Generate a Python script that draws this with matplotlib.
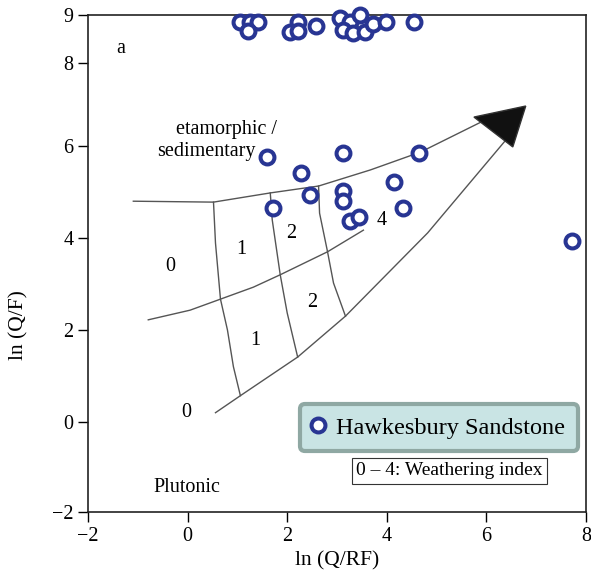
import matplotlib
matplotlib.use("Agg")
import matplotlib.pyplot as plt
from matplotlib.patches import Polygon

plt.rcParams['font.family'] = ['Liberation Serif', 'DejaVu Serif']

# ---- data (ln(Q/RF), ln(Q/F)) ----
top_x = [1.06, 1.26, 1.42, 1.22, 2.06, 2.21, 2.21, 2.57, 3.07, 3.27, 3.47, 3.13, 3.33, 3.57, 3.73, 3.98, 4.54]
top_y = [8.70, 8.70, 8.70, 8.50, 8.48, 8.70, 8.50, 8.61, 8.78, 8.70, 8.85, 8.52, 8.46, 8.48, 8.65, 8.70, 8.70]
mid_x = [1.60, 3.13, 4.64, 2.27, 4.14, 2.45, 3.13, 3.13, 1.72, 4.32, 3.27, 3.45, 7.72]
mid_y = [5.76, 5.85, 5.85, 5.41, 5.22, 4.93, 5.02, 4.80, 4.65, 4.65, 4.37, 4.46, 3.93]

upper_x = [-1.09, 0.52, 1.66, 2.63, 3.67, 4.68, 5.89]
upper_y = [4.80, 4.78, 4.98, 5.13, 5.48, 5.87, 6.52]
lower_x = [0.56, 1.06, 2.21, 3.17, 4.82, 6.39]
lower_y = [0.20, 0.57, 1.41, 2.30, 4.11, 6.13]
middle_x = [-0.79, 0.05, 0.66, 1.32, 1.86, 2.81, 3.53]
middle_y = [2.22, 2.43, 2.67, 2.93, 3.20, 3.70, 4.17]
v1_x = [0.52, 0.56, 0.66, 0.80, 0.92, 1.06]
v1_y = [4.78, 3.89, 2.67, 2.00, 1.20, 0.57]
v2_x = [1.66, 1.70, 1.86, 2.00, 2.21]
v2_y = [4.98, 4.39, 3.20, 2.37, 1.41]
v3_x = [2.63, 2.65, 2.81, 2.93, 3.17]
v3_y = [5.13, 4.54, 3.70, 3.02, 2.30]
arrow_x = [5.75, 6.79, 6.53]
arrow_y = [6.63, 6.87, 5.98]

index_labels = ['0', '1', '2', '4', '2', '1', '0']
index_x = [-0.35, 1.08, 2.08, 3.90, 2.51, 1.36, -0.03]
index_y = [3.39, 3.76, 4.09, 4.39, 2.59, 1.76, 0.20]

ytick_pos = [-1.96, 0, 2, 4, 6, 7.80, 8.85]
ytick_lab = ['\u22122', '0', '2', '4', '6', '8', '9']
xtick_pos = [-2, 0, 2, 4, 6, 8]
xtick_lab = ['\u22122', '0', '2', '4', '6', '8']

navy = '#283593'
linec = '#555555'
fs = 14.5

fig = plt.figure(figsize=(5.91, 5.73), dpi=100)
ax = fig.add_axes([88/591, 1-512/573, 498/591, 497/573])
ax.set_xlim(-2, 8)
ax.set_ylim(-1.96, 8.85)

for xs, ys in [(upper_x, upper_y), (lower_x, lower_y), (middle_x, middle_y),
               (v1_x, v1_y), (v2_x, v2_y), (v3_x, v3_y)]:
    ax.plot(xs, ys, color=linec, lw=1.0, zorder=2)
ax.add_patch(Polygon(list(zip(arrow_x, arrow_y)), closed=True, fc='#111111', ec='#333333', lw=1, zorder=3))

for t, x, y in zip(index_labels, index_x, index_y):
    ax.text(x, y, t, fontsize=fs, ha='center', va='center', zorder=4)

all_x = top_x + mid_x
all_y = top_y + mid_y
ax.plot(all_x, all_y, 'o', ms=10, mfc='white', mec=navy, mew=2.9, ls='none',
        zorder=5, clip_on=False, label='Hawkesbury Sandstone')

ax.text(-1.34, 8.13, 'a', fontsize=fs, ha='center', va='center')
ax.text(1.80, 6.35, 'etamorphic /', fontsize=fs, ha='right', va='center')
ax.text(1.36, 5.88, 'sedimentary', fontsize=fs, ha='right', va='center')
ax.text(-0.01, -1.43, 'Plutonic', fontsize=fs, ha='center', va='center')

leg = ax.legend(loc='center left', bbox_to_anchor=(0.426, 0.17), frameon=True, fancybox=True,
                fontsize=17.5, handletextpad=0.55, borderpad=0.52, handlelength=0.4,
                borderaxespad=0, framealpha=1)
fr = leg.get_frame()
fr.set_facecolor('#c9e4e4')
fr.set_edgecolor('#8fa8a3')
fr.set_linewidth(3)

ax.text(0.725, 0.0825, '0 \u2013 4: Weathering index', transform=ax.transAxes, fontsize=14,
        ha='center', va='center',
        bbox=dict(boxstyle='square,pad=0.22', fc='white', ec='#333333', lw=0.8))

ax.set_xticks(xtick_pos)
ax.set_xticklabels(xtick_lab)
ax.set_yticks(ytick_pos)
ax.set_yticklabels(ytick_lab)
ax.tick_params(direction='out', length=7, width=1, labelsize=fs, colors='black')
for s in ax.spines.values():
    s.set_linewidth(1.2)
    s.set_color('#222222')

ax.set_xlabel('ln (Q/RF)', fontsize=fs + 1, labelpad=4)
ax.set_ylabel('ln (Q/F)', fontsize=fs + 1)
ax.yaxis.set_label_coords(-0.12, 0.376)

fig.savefig('out.png', dpi=100)
